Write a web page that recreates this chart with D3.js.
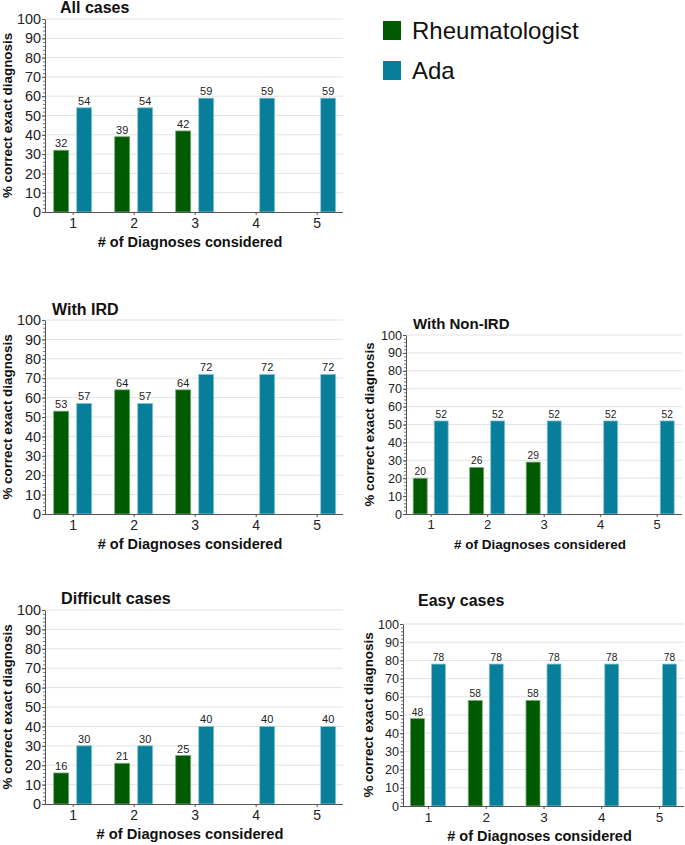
<!DOCTYPE html>
<html>
<head>
<meta charset="utf-8">
<script src="https://cdn.jsdelivr.net/npm/d3@7"></script>
<style>
    body { margin: 0; background: #fff; }
    svg, svg text { font-family: "Liberation Sans", Arial, sans-serif; }
</style>
</head>
<body>
<div id="chart"></div>
<script>
// Data
const categories = ["1", "2", "3", "4", "5"];
const seriesNames = ["Rheumatologist", "Ada"];
const yTicks = [0, 10, 20, 30, 40, 50, 60, 70, 80, 90, 100];

const allRheum = [32, 39, 42, null, null];
const allAda = [54, 54, 59, 59, 59];
const irdRheum = [53, 64, 64, null, null];
const irdAda = [57, 57, 72, 72, 72];
const nonIrdRheum = [20, 26, 29, null, null];
const nonIrdAda = [52, 52, 52, 52, 52];
const difficultRheum = [16, 21, 25, null, null];
const difficultAda = [30, 30, 40, 40, 40];
const easyRheum = [48, 58, 58, null, null];
const easyAda = [78, 78, 78, 78, 78];

// Configuration
const colors = {
    rheum: "#005a00",
    ada: "#077f9a",
    grid: "#e3e3e3",
    axis: "#555"
};

// Panel layout (pixels)
const panels = [
    { title: "All cases", rheum: allRheum, ada: allAda,
      left: 45, right: 343, top: 19, bottom: 212, c1: 72.7, c5: 316.7,
      titleX: 60, titleY: 13, titleSize: 16, tickSize: 14.4, xTickSize: 14, valSize: 11, labSize: 13.4, xLabSize: 14.5, ylabX: 12, bw: 15, gap: 8 },
    { title: "With IRD", rheum: irdRheum, ada: irdAda,
      left: 45, right: 343, top: 320, bottom: 514, c1: 72.7, c5: 316.7,
      titleX: 52, titleY: 315, titleSize: 16, tickSize: 14.4, xTickSize: 14, valSize: 11, labSize: 13.4, xLabSize: 14.5, ylabX: 12, bw: 15, gap: 8 },
    { title: "With Non-IRD", rheum: nonIrdRheum, ada: nonIrdAda,
      left: 406, right: 682, top: 335, bottom: 514, c1: 430.7, c5: 656.7,
      titleX: 413, titleY: 329, titleSize: 15, tickSize: 12.6, xTickSize: 13, valSize: 10.2, labSize: 13.3, xLabSize: 13.5, ylabX: 374, bw: 14, gap: 7 },
    { title: "Difficult cases", rheum: difficultRheum, ada: difficultAda,
      left: 45, right: 343, top: 610, bottom: 804, c1: 72.7, c5: 316.7,
      titleX: 61, titleY: 604, titleSize: 16.2, tickSize: 14.4, xTickSize: 14, valSize: 11, labSize: 13.4, xLabSize: 14.7, ylabX: 12, bw: 15, gap: 8 },
    { title: "Easy cases", rheum: easyRheum, ada: easyAda,
      left: 403, right: 684, top: 624, bottom: 806, c1: 428, c5: 659,
      titleX: 418, titleY: 606, titleSize: 16, tickSize: 12.6, xTickSize: 13.5, valSize: 10.2, labSize: 13.4, xLabSize: 14.5, ylabX: 373, bw: 14, gap: 7 }
];

const svg = d3.select("#chart").append("svg")
    .attr("width", 685)
    .attr("height", 845);

panels.forEach(renderPanel);
renderLegend();

function renderPanel(p) {
    const g = svg.append("g");

    const x = d3.scalePoint()
        .domain(categories)
        .range([p.c1, p.c5]);

    const y = d3.scaleLinear()
        .domain([0, 100])
        .range([p.bottom, p.top]);

    // Gridlines
    g.selectAll("line.grid")
        .data(yTicks.slice(1))
        .join("line")
        .attr("x1", p.left)
        .attr("x2", p.right)
        .attr("y1", d => y(d))
        .attr("y2", d => y(d))
        .attr("stroke", colors.grid)
        .attr("stroke-width", 1);

    // Y minor ticks (every 2)
    g.append("g")
        .attr("transform", `translate(${p.left},0)`)
        .call(d3.axisLeft(y).tickValues(d3.range(0, 101, 2)).tickSize(2).tickFormat(""))
        .call(a => a.select(".domain").remove())
        .call(a => a.selectAll("line").attr("stroke", "#777"));

    // Y axis
    const yAxis = g.append("g")
        .attr("transform", `translate(${p.left},0)`)
        .call(d3.axisLeft(y).tickValues(yTicks).tickSize(3).tickSizeOuter(0).tickPadding(1));
    yAxis
        .attr("font-family", "Liberation Sans, Arial, sans-serif")
        .attr("font-size", p.tickSize);
    yAxis.select(".domain").attr("stroke", colors.axis);
    yAxis.selectAll(".tick line").attr("stroke", colors.axis);
    yAxis.selectAll(".tick text")
        .attr("font-size", p.tickSize)
        .attr("fill", "#222");

    // Bars
    const series = [
        { key: "rheum", values: p.rheum, offset: -(p.gap / 2 + p.bw / 2) },
        { key: "ada", values: p.ada, offset: (p.gap / 2 + p.bw / 2) }
    ];

    series.forEach(s => {
        const rows = categories.map((c, i) => ({ cat: c, v: s.values[i] }))
            .filter(d => d.v !== null);

        g.selectAll("rect." + s.key)
            .data(rows)
            .join("rect")
            .attr("class", s.key)
            .attr("x", d => x(d.cat) + s.offset - p.bw / 2)
            .attr("y", d => y(d.v))
            .attr("width", p.bw)
            .attr("height", d => p.bottom - y(d.v))
            .attr("fill", colors[s.key])
            .attr("stroke", s.key === "ada" ? "#8fc4d1" : "#7aa87a")
            .attr("stroke-width", 0.8);

        g.selectAll("text." + s.key)
            .data(rows)
            .join("text")
            .attr("class", s.key)
            .attr("x", d => x(d.cat) + s.offset)
            .attr("y", d => y(d.v) - 3)
            .attr("text-anchor", "middle")
            .attr("font-size", p.valSize)
            .attr("fill", "#222")
            .text(d => d.v);
    });

    // X axis
    g.append("line")
        .attr("x1", p.left)
        .attr("x2", p.right)
        .attr("y1", p.bottom + 0.5)
        .attr("y2", p.bottom + 0.5)
        .attr("stroke", colors.axis);

    const xAxis = g.append("g")
        .attr("transform", `translate(0,${p.bottom})`)
        .call(d3.axisBottom(x).tickSize(3).tickPadding(3));
    xAxis
        .attr("font-family", "Liberation Sans, Arial, sans-serif")
        .attr("font-size", p.xTickSize);
    xAxis.select(".domain").remove();
    xAxis.selectAll(".tick line").attr("stroke", colors.axis);
    xAxis.selectAll(".tick text")
        .attr("font-size", p.xTickSize)
        .attr("fill", "#222");

    // Axis labels
    g.append("text")
        .attr("x", (p.left + p.right) / 2 - 4)
        .attr("y", p.bottom + 35)
        .attr("text-anchor", "middle")
        .attr("font-size", p.xLabSize)
        .attr("font-weight", "bold")
        .attr("fill", "#111")
        .text("# of Diagnoses considered");

    g.append("text")
        .attr("transform", "rotate(-90)")
        .attr("x", -(p.top + p.bottom) / 2)
        .attr("y", p.ylabX)
        .attr("text-anchor", "middle")
        .attr("font-size", p.labSize)
        .attr("font-weight", "bold")
        .attr("fill", "#111")
        .text("% correct exact diagnosis");

    // Title
    g.append("text")
        .attr("x", p.titleX)
        .attr("y", p.titleY)
        .attr("font-size", p.titleSize)
        .attr("font-weight", "bold")
        .attr("fill", "#111")
        .text(p.title);
}

function renderLegend() {
    const legend = svg.append("g")
        .attr("transform", "translate(383,21)");

    seriesNames.forEach((name, i) => {
        legend.append("rect")
            .attr("x", 0)
            .attr("y", i * 40)
            .attr("width", 18)
            .attr("height", 19)
            .attr("fill", i === 0 ? colors.rheum : colors.ada);
        legend.append("text")
            .attr("x", 29)
            .attr("y", i * 40 + 18)
            .attr("font-size", 24)
            .attr("fill", "#111")
            .text(name);
    });
}
</script>
</body>
</html>
